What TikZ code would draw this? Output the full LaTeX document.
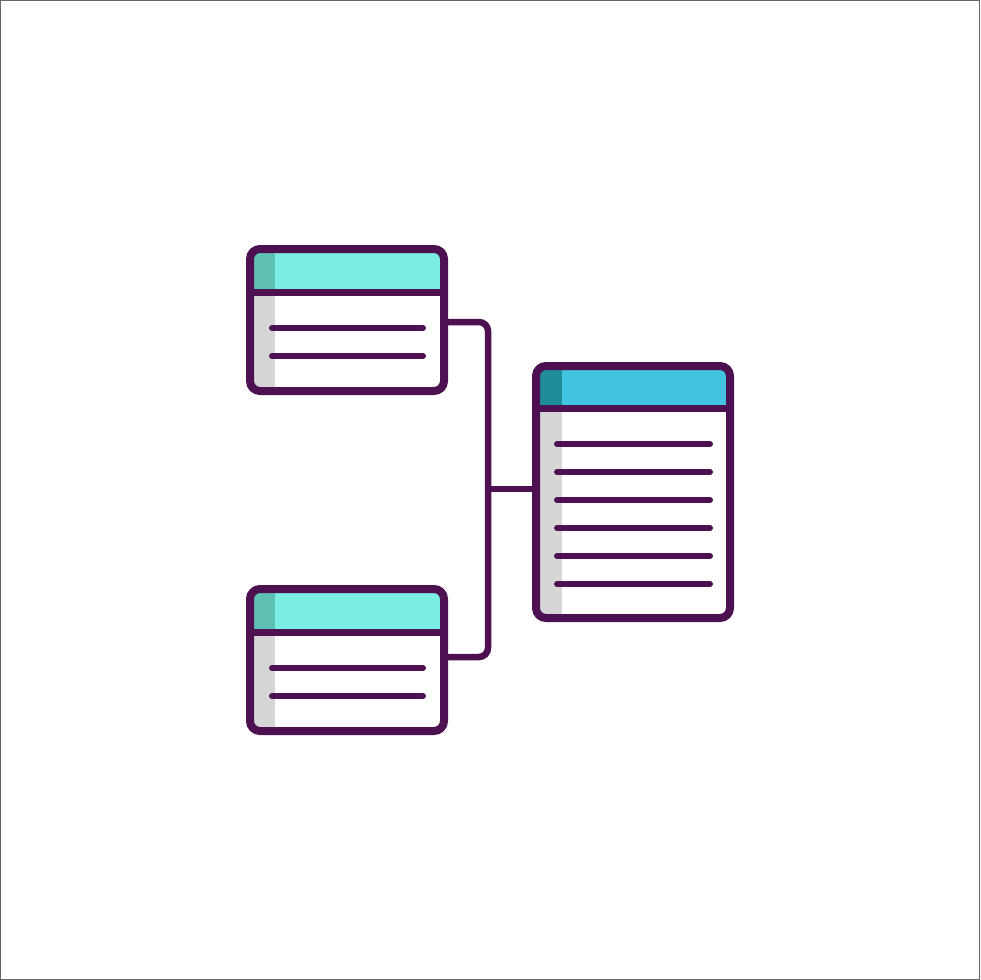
\documentclass[tikz,border=0pt]{standalone}
\usepackage{xcolor}
\usepackage{tikz}
\usetikzlibrary{positioning}

\definecolor{plum}{HTML}{4D1152}
\definecolor{tealLight}{HTML}{7BEDE2}
\definecolor{tealDark}{HTML}{5DC0B2}
\definecolor{skyLight}{HTML}{42C3E0}
\definecolor{skyDark}{HTML}{1F8C99}
\definecolor{sideGray}{HTML}{D6D6D6}

\begin{document}
\begin{tikzpicture}[x=1pt,y=-1pt,
    card/.style={draw=plum, line width=8pt, rounded corners=10pt, inner sep=0pt,
      minimum width=194pt},
    row/.style={draw=plum, line width=6pt, line cap=round},
    wire/.style={draw=plum, line width=6.5pt, rounded corners=9pt}]
  % Frame and page size
  \useasboundingbox (0,0) rectangle (980,980);
  \draw[gray!80!black, line width=1pt] (0.5,0.5) rectangle (979.5,979.5);
  % Fills of the two small tables (offset 0 and 340)
  \foreach \o in {0,340} {
    \begin{scope}
      \clip[rounded corners=10pt] (250,249+\o) rectangle (444,391+\o);
      \fill[white] (250,249+\o) rectangle (444,391+\o);
      \fill[tealLight] (250,249+\o) rectangle (444,292+\o);
      \fill[tealDark] (250,249+\o) rectangle (275,292+\o);
      \fill[sideGray] (250,292+\o) rectangle (275,391+\o);
    \end{scope}
    \draw[plum, line width=7pt] (250,292+\o) -- (444,292+\o);
    \foreach \y in {328,356} {
      \draw[row] (272,\y+\o) -- (423,\y+\o);
    }
  }
  % Fills of the big table
  \begin{scope}
    \clip[rounded corners=10pt] (536,366) rectangle (730,618);
    \fill[white] (536,366) rectangle (730,618);
    \fill[skyLight] (536,366) rectangle (730,408);
    \fill[skyDark] (536,366) rectangle (562,408);
    \fill[sideGray] (536,408) rectangle (562,618);
  \end{scope}
  \draw[plum, line width=7pt] (536,408) -- (730,408);
  \foreach \y in {444,472,500,528,556,584} {
    \draw[row] (557,\y) -- (710,\y);
  }
  % Table outlines
  \node[card, minimum height=142pt] (top) at (347,320) {};
  \node[card, minimum height=142pt] (bottom) at (347,660) {};
  \node[card, minimum height=252pt] (main) at (633,492) {};
  % Connectors
  \coordinate (bus) at (488,489);
  \draw[wire] ([xshift=-4pt,yshift=-2pt]top.east) -| (bus)
    |- ([xshift=-4pt,yshift=3pt]bottom.east);
  \draw[wire] (bus) -- ([xshift=4pt]bus -| main.west);
\end{tikzpicture}
\end{document}
